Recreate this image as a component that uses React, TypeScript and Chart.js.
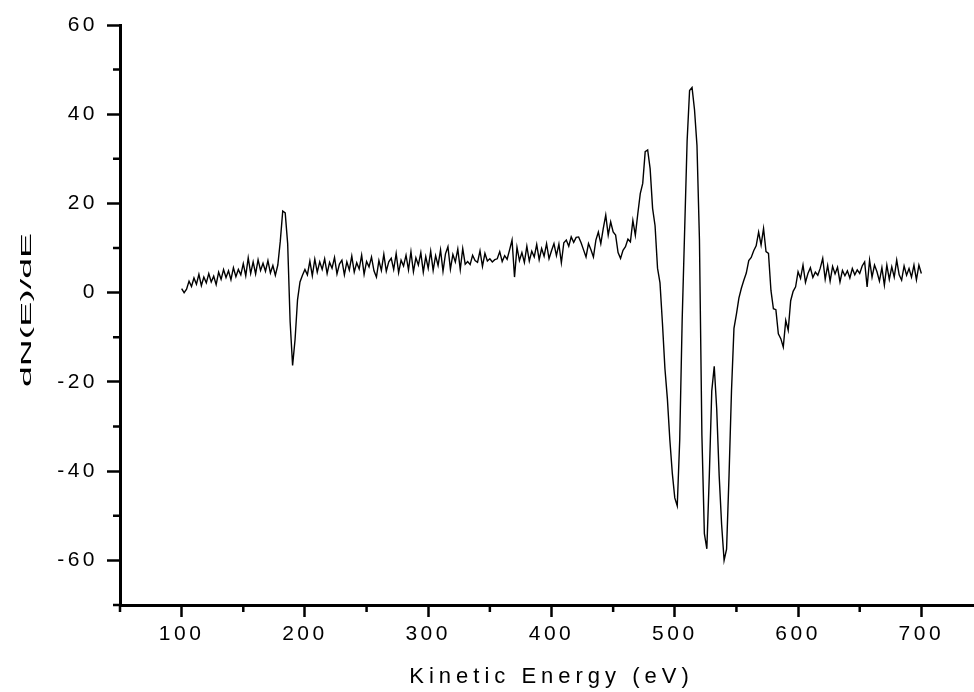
import { useEffect, useRef } from 'react';
import { Chart, registerables } from 'chart.js';

Chart.register(...registerables);

// Sampling grid of the spectrum (eV)
const ENERGY_START = 100;
const ENERGY_STEP = 2;

// dN(E)/dE values, 2 eV apart, split by 100 eV segments
const seg100 = [
  0.9, 0.0, 0.8, 2.6, 1.4, 3.3, 1.9, 4.1, 1.6, 3.5,
  2.2, 4.3, 2.4, 3.7, 1.8, 4.6, 3.0, 5.2, 3.4, 4.9,
  2.9, 5.6, 3.6, 5.2, 4.0, 6.5, 3.8, 7.8, 4.3, 6.9,
  4.2, 7.4, 5.0, 6.6, 4.8, 7.2, 4.4, 6.1, 3.9, 6.2,
  11.5, 18.3, 17.9, 11.0, -6.5, -16.3, -10.5, -1.6, 2.4, 3.9,
];
const seg200 = [
  5.2, 4.0, 7.1, 3.8, 7.5, 4.6, 6.9, 5.2, 7.6, 4.3,
  6.8, 5.5, 7.9, 4.2, 6.4, 7.3, 4.0, 6.9, 5.1, 8.2,
  4.6, 6.7, 5.3, 8.4, 4.1, 7.0, 5.8, 8.0, 4.9, 3.5,
  7.2, 5.0, 8.6, 4.8, 6.9, 7.7, 5.2, 8.8, 4.5, 7.3,
  6.0, 8.4, 5.1, 9.2, 4.7, 7.8, 6.2, 9.0, 4.6, 8.1,
];
const seg300 = [
  5.5, 9.3, 5.0, 8.3, 6.1, 9.6, 4.8, 8.7, 10.3, 5.3,
  8.6, 6.9, 9.8, 5.2, 9.9, 6.4, 7.0, 6.3, 8.4, 7.2,
  6.8, 9.4, 5.9, 8.8, 7.1, 7.6, 6.9, 7.4, 7.6, 9.2,
  7.0, 8.3, 7.5, 9.6, 11.8, 3.5, 10.2, 7.2, 9.0, 6.8,
  10.4, 7.1, 9.3, 8.0, 10.8, 7.4, 9.9, 8.2, 11.0, 7.6,
];
const seg400 = [
  9.4, 11.0, 8.3, 10.9, 6.7, 11.2, 11.8, 10.4, 12.5, 11.3,
  12.4, 12.5, 11.2, 9.6, 8.0, 11.0, 9.6, 8.0, 11.8, 13.6,
  11.0, 14.4, 17.4, 12.9, 15.9, 13.6, 12.9, 9.0, 7.7, 9.5,
  10.3, 12.0, 11.4, 16.2, 12.9, 17.7, 22.2, 24.5, 31.6, 32.0,
  27.8, 18.9, 15.0, 5.5, 2.2, -6.9, -17.0, -23.8, -33.0, -40.5,
];
const seg500 = [
  -46.0, -47.8, -33.0, -6.0, 14.0, 34.0, 45.3, 46.0, 41.0, 33.0,
  12.0, -32.0, -54.0, -57.4, -41.0, -22.0, -16.5, -26.0, -41.0, -52.0,
  -60.0, -57.5, -41.0, -22.0, -8.0, -4.8, -1.2, 1.0, 2.8, 4.4,
  7.2, 7.9, 9.4, 10.5, 13.6, 10.7, 14.4, 9.2, 8.8, 0.5,
  -3.6, -3.8, -9.2, -10.3, -12.2, -6.2, -8.4, -1.8, 0.3, 1.3,
];
const seg600 = [
  4.7, 3.2, 6.2, 2.3, 4.3, 5.6, 3.4, 4.6, 3.9, 5.5,
  7.7, 3.0, 6.1, 2.6, 5.9, 4.2, 5.7, 2.4, 5.0, 3.8,
  4.9, 3.3, 5.4, 4.0, 5.1, 4.3, 6.0, 6.9, 1.3, 7.3,
  3.5, 6.2, 4.7, 2.6, 5.6, 1.7, 6.2, 3.0, 5.8, 3.5,
  7.3, 4.0, 2.8, 6.0, 3.9, 5.4, 3.5, 6.2, 2.9, 6.2,
  4.3,
];

const X_MIN = 50;
const X_MAX = 750;
const Y_MIN = -70;
const Y_MAX = 60;
const xTickValues = [100, 200, 300, 400, 500, 600, 700];
const xMinorTicks = [50, 150, 250, 350, 450, 550, 650, 750];
const yTickValues = [-60, -40, -20, 0, 20, 40, 60];
const yMinorTicks = [-70, -50, -30, -10, 10, 30, 50];
const xTitle = 'Kinetic Energy (eV)';
const yTitle = 'dN(E)/dE';

const FONT = "'Liberation Sans', Arial, Helvetica, sans-serif";
const TICK_SPACING = '3.5px';
const XTITLE_SPACING = '5px';
const Y_TITLE_STRETCH = 2.5;

const allValues = [...seg100, ...seg200, ...seg300, ...seg400, ...seg500, ...seg600];
const points = allValues.map((v, i) => ({ x: ENERGY_START + i * ENERGY_STEP, y: v }));

const originStyle = {
  id: 'originStyle',
  beforeUpdate(chart: any) {
    chart.ctx.letterSpacing = TICK_SPACING;
  },
  beforeDraw(chart: any) {
    chart.ctx.letterSpacing = TICK_SPACING;
    const ys: any = chart.scales.y;
    if (ys && !ys.__patched) {
      const orig = ys.drawTitle;
      ys.drawTitle = function () {
        const c = this.ctx;
        const cy = (this.top + this.bottom) / 2;
        c.save();
        c.letterSpacing = '0px';
        c.translate(0, cy - 5);
        c.scale(1, Y_TITLE_STRETCH);
        c.translate(0, -cy);
        orig.call(this);
        c.restore();
      };
      ys.__patched = true;
    }
    const xs: any = chart.scales.x;
    if (xs && !xs.__patched) {
      const origX = xs.drawTitle;
      xs.drawTitle = function () {
        const c = this.ctx;
        c.save();
        c.letterSpacing = XTITLE_SPACING;
        origX.call(this);
        c.restore();
      };
      xs.__patched = true;
    }
  },
  afterDraw(chart: any) {
    const ctx = chart.ctx;
    const xs = chart.scales.x;
    const ys = chart.scales.y;
    ctx.save();
    ctx.strokeStyle = '#000';
    ctx.lineWidth = 2.5;
    ctx.beginPath();
    for (const v of xMinorTicks) {
      const p = xs.getPixelForValue(v);
      ctx.moveTo(p, xs.top);
      ctx.lineTo(p, xs.top + 7);
    }
    for (const v of yMinorTicks) {
      const p = ys.getPixelForValue(v);
      ctx.moveTo(ys.right - 7, p);
      ctx.lineTo(ys.right, p);
    }
    ctx.stroke();
    ctx.restore();
  },
};

export default function App() {
  const ref = useRef<HTMLCanvasElement>(null);
  useEffect(() => {
    if (!ref.current) return;
    const chart = new Chart(ref.current, {
      type: 'line',
      data: {
        datasets: [
          {
            data: points,
            borderColor: '#000',
            borderWidth: 1.4,
            pointRadius: 0,
            tension: 0,
            fill: false,
          },
        ],
      },
      options: {
        responsive: false,
        animation: false,
        parsing: true,
        layout: { padding: { top: 25, right: 17, bottom: 0, left: 0 } },
        plugins: { legend: { display: false }, tooltip: { enabled: false } },
        scales: {
          x: {
            type: 'linear',
            min: X_MIN,
            max: X_MAX,
            afterBuildTicks: (s: any) => {
              s.ticks = xTickValues.map((v) => ({ value: v }));
            },
            afterFit: (s: any) => {
              s.height = 87;
            },
            grid: { drawOnChartArea: false, drawTicks: true, tickLength: 12, tickWidth: 2.5, tickColor: '#000' },
            border: { display: true, color: '#000', width: 3 },
            ticks: {
              color: '#000',
              font: { family: FONT, size: 21 },
              padding: 5,
              maxRotation: 0,
              autoSkip: false,
              callback: (v: any) => String(v),
            },
            title: {
              display: true,
              text: xTitle,
              color: '#000',
              font: { family: FONT, size: 22 },
              padding: { top: 0, bottom: 2 },
            },
          },
          y: {
            type: 'linear',
            min: Y_MIN,
            max: Y_MAX,
            afterBuildTicks: (s: any) => {
              s.ticks = yTickValues.map((v) => ({ value: v }));
            },
            afterFit: (s: any) => {
              s.width = 120;
            },
            grid: { drawOnChartArea: false, drawTicks: true, tickLength: 13, tickWidth: 2.5, tickColor: '#000' },
            border: { display: true, color: '#000', width: 3 },
            ticks: {
              color: '#000',
              font: { family: FONT, size: 21 },
              padding: 9,
              autoSkip: false,
              callback: (v: any) => String(v),
            },
            title: {
              display: true,
              text: yTitle,
              color: '#000',
              font: { family: FONT, size: 15 },
              padding: { top: 18, bottom: 0 },
            },
          },
        },
      },
      plugins: [originStyle],
    } as any);
    return () => chart.destroy();
  }, []);
  return (
    <div
      style={{
        position: 'fixed',
        left: 0,
        top: 0,
        width: 974,
        height: 692,
        overflow: 'hidden',
        background: '#fff',
      }}
    >
      <canvas ref={ref} width={1000} height={692} style={{ display: 'block', width: 1000, height: 692 }} />
    </div>
  );
}
